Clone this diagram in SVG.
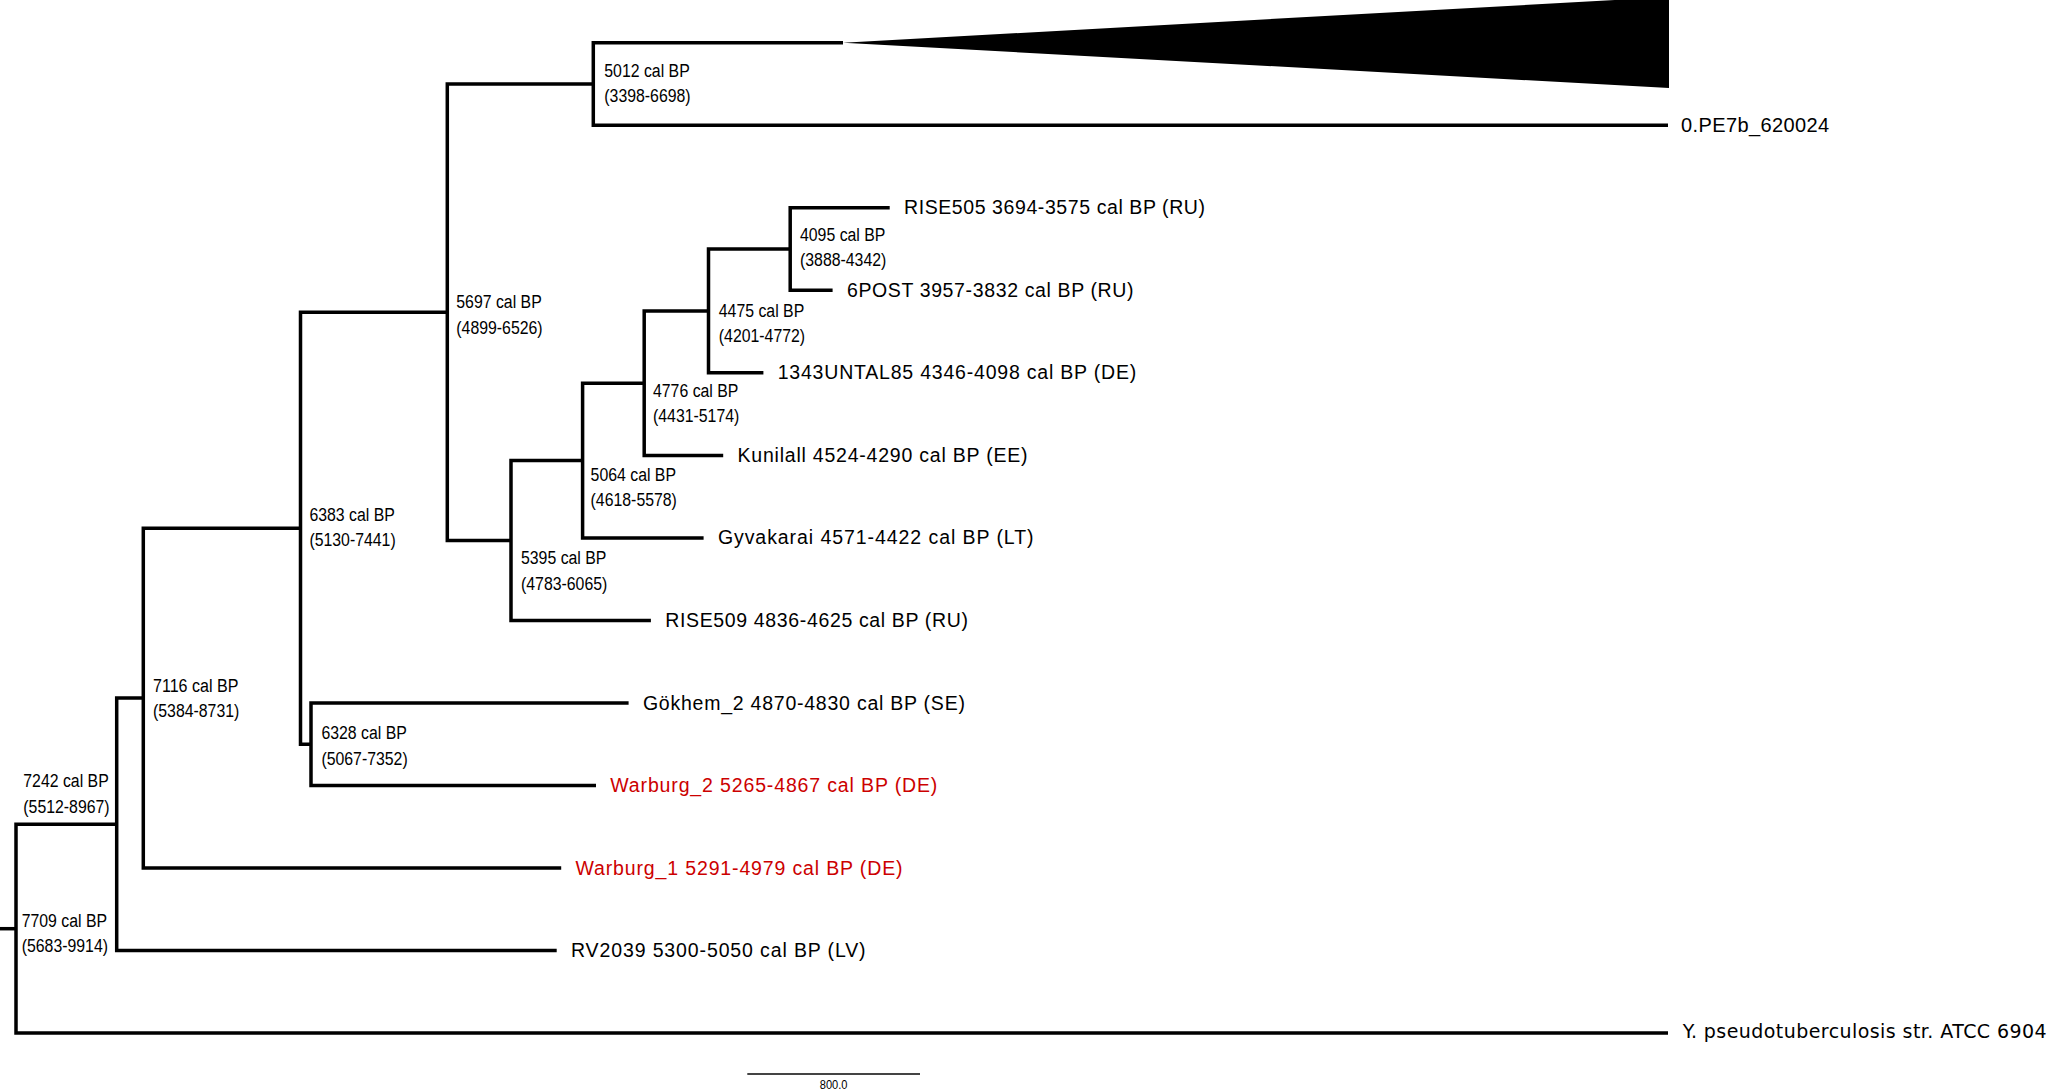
<svg xmlns="http://www.w3.org/2000/svg" width="2050" height="1091" viewBox="0 0 2050 1091">
<style>
.br{fill:none;stroke:#000;stroke-width:3.5;stroke-linejoin:miter;stroke-linecap:butt}
.nl{font-family:"Liberation Sans",Arial,sans-serif;font-size:18px;fill:#000}
.lf{font-family:"Liberation Sans",Arial,sans-serif;font-size:19.5px;fill:#000}
.red{fill:#cc0000}
</style>
<rect width="2050" height="1091" fill="#fff"/>
<g id="connectors">
<path class="br" d="M0 928.7 H16"/>
<path class="br" d="M116.7 824.3 H16 V1033 H1668"/>
<path class="br" d="M143.3 698.1 H116.7 V950.5 H556.7"/>
<path class="br" d="M300.5 528.2 H143.3 V868 H561.2"/>
<path class="br" d="M447.3 312.2 H300.5 V744.2 H311"/>
<path class="br" d="M628.6 703 H311 V785.5 H596"/>
<path class="br" d="M593.3 84 H447.3 V540.5 H511"/>
<path class="br" d="M843 42.7 H593.3 V125.2 H1668"/>
<path class="br" d="M582.6 460.5 H511 V620.4 H650.9"/>
<path class="br" d="M644.2 383.2 H582.6 V537.9 H703.6"/>
<path class="br" d="M708.5 310.9 H644.2 V455.4 H723.2"/>
<path class="br" d="M790.2 249 H708.5 V372.8 H763.4"/>
<path class="br" d="M889.7 207.8 H790.2 V290.3 H832.6"/>
</g>
<g id="collapsed-clade"><polygon points="843,42.7 1669,-3 1669,88" fill="#000"/></g>
<g id="leaf-0PE7b"><text x="1681" y="132.2" font-family="Liberation Sans, Arial, sans-serif" font-size="20" textLength="148">0.PE7b_620024</text></g>
<g id="leaf-RISE505"><text class="lf" x="904" y="214.3" textLength="301">RISE505 3694-3575 cal BP (RU)</text></g>
<g id="leaf-6POST"><text class="lf" x="846.9" y="296.8" textLength="286.6">6POST 3957-3832 cal BP (RU)</text></g>
<g id="leaf-1343UNTAL85"><text class="lf" x="777.7" y="379.3" textLength="358.5">1343UNTAL85 4346-4098 cal BP (DE)</text></g>
<g id="leaf-Kunilall"><text class="lf" x="737.5" y="461.9" textLength="290">Kunilall 4524-4290 cal BP (EE)</text></g>
<g id="leaf-Gyvakarai"><text class="lf" x="717.9" y="544.4" textLength="315.6">Gyvakarai 4571-4422 cal BP (LT)</text></g>
<g id="leaf-RISE509"><text class="lf" x="665.2" y="626.9" textLength="302.7">RISE509 4836-4625 cal BP (RU)</text></g>
<g id="leaf-Gokhem2"><text class="lf" x="642.9" y="709.5" textLength="322">Gökhem_2 4870-4830 cal BP (SE)</text></g>
<g id="leaf-Warburg2"><text class="lf red" x="610.3" y="792" textLength="327">Warburg_2 5265-4867 cal BP (DE)</text></g>
<g id="leaf-Warburg1"><text class="lf red" x="575.5" y="874.5" textLength="327">Warburg_1 5291-4979 cal BP (DE)</text></g>
<g id="leaf-RV2039"><text class="lf" x="571" y="957" textLength="294.6">RV2039 5300-5050 cal BP (LV)</text></g>
<g id="leaf-Ypseudo"><text x="1682.7" y="1038" font-family="DejaVu Sans, sans-serif" font-size="19" textLength="364">Y. pseudotuberculosis str. ATCC 6904</text></g>
<g id="node-5012"><text class="nl" x="604.3" y="76.7" textLength="85.4" lengthAdjust="spacingAndGlyphs">5012 cal BP</text><text class="nl" x="604.3" y="102.2" textLength="86.3" lengthAdjust="spacingAndGlyphs">(3398-6698)</text></g>
<g id="node-5697"><text class="nl" x="456.3" y="308.3" textLength="85.4" lengthAdjust="spacingAndGlyphs">5697 cal BP</text><text class="nl" x="456.3" y="333.8" textLength="86.3" lengthAdjust="spacingAndGlyphs">(4899-6526)</text></g>
<g id="node-4095"><text class="nl" x="800" y="240.7" textLength="85.4" lengthAdjust="spacingAndGlyphs">4095 cal BP</text><text class="nl" x="800" y="266.2" textLength="86.3" lengthAdjust="spacingAndGlyphs">(3888-4342)</text></g>
<g id="node-4475"><text class="nl" x="718.8" y="316.7" textLength="85.4" lengthAdjust="spacingAndGlyphs">4475 cal BP</text><text class="nl" x="718.8" y="342.2" textLength="86.3" lengthAdjust="spacingAndGlyphs">(4201-4772)</text></g>
<g id="node-4776"><text class="nl" x="653" y="396.7" textLength="85.4" lengthAdjust="spacingAndGlyphs">4776 cal BP</text><text class="nl" x="653" y="422.2" textLength="86.3" lengthAdjust="spacingAndGlyphs">(4431-5174)</text></g>
<g id="node-5064"><text class="nl" x="590.6" y="480.7" textLength="85.4" lengthAdjust="spacingAndGlyphs">5064 cal BP</text><text class="nl" x="590.6" y="506.2" textLength="86.3" lengthAdjust="spacingAndGlyphs">(4618-5578)</text></g>
<g id="node-5395"><text class="nl" x="521" y="564" textLength="85.4" lengthAdjust="spacingAndGlyphs">5395 cal BP</text><text class="nl" x="521" y="589.5" textLength="86.3" lengthAdjust="spacingAndGlyphs">(4783-6065)</text></g>
<g id="node-6383"><text class="nl" x="309.4" y="520.7" textLength="85.4" lengthAdjust="spacingAndGlyphs">6383 cal BP</text><text class="nl" x="309.4" y="546.2" textLength="86.3" lengthAdjust="spacingAndGlyphs">(5130-7441)</text></g>
<g id="node-7116"><text class="nl" x="153" y="691.7" textLength="85.4" lengthAdjust="spacingAndGlyphs">7116 cal BP</text><text class="nl" x="153" y="717.2" textLength="86.3" lengthAdjust="spacingAndGlyphs">(5384-8731)</text></g>
<g id="node-6328"><text class="nl" x="321.4" y="739.3" textLength="85.4" lengthAdjust="spacingAndGlyphs">6328 cal BP</text><text class="nl" x="321.4" y="764.8" textLength="86.3" lengthAdjust="spacingAndGlyphs">(5067-7352)</text></g>
<g id="node-7242"><text class="nl" x="23.3" y="787" textLength="85.4" lengthAdjust="spacingAndGlyphs">7242 cal BP</text><text class="nl" x="23.3" y="812.5" textLength="86.3" lengthAdjust="spacingAndGlyphs">(5512-8967)</text></g>
<g id="node-7709"><text class="nl" x="21.7" y="926.7" textLength="85.4" lengthAdjust="spacingAndGlyphs">7709 cal BP</text><text class="nl" x="21.7" y="952.2" textLength="86.3" lengthAdjust="spacingAndGlyphs">(5683-9914)</text></g>
<g id="scale-bar">
<line x1="747.3" y1="1074" x2="920" y2="1074" stroke="#444" stroke-width="2"/>
<text x="833.6" y="1089.3" font-family="Liberation Sans, Arial, sans-serif" font-size="12" text-anchor="middle" textLength="27.7" lengthAdjust="spacingAndGlyphs">800.0</text>
</g>
</svg>
